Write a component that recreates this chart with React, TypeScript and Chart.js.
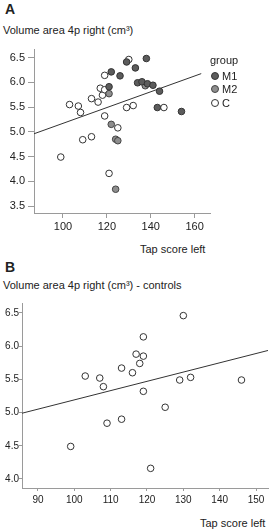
import React, { useEffect, useRef } from "react";
import { Chart, registerables } from "chart.js";
Chart.register(...registerables);

// ---- data ----
const m1Tap = [122, 126, 121, 129, 138, 133, 134, 136, 138.5, 141, 144, 143, 154];
const m1Vol = [6.21, 6.13, 5.91, 6.41, 6.48, 6.29, 5.99, 6.01, 5.97, 5.94, 5.82, 5.49, 5.41];
const m2Tap = [121, 137.5, 122, 124, 125, 124];
const m2Vol = [5.77, 5.93, 5.15, 4.85, 4.82, 3.84];
const cTap = [103, 107, 108, 113, 116, 117, 118, 119, 119, 130, 129, 132, 146, 119, 99, 109, 113, 125, 121];
const cVol = [5.55, 5.52, 5.39, 5.67, 5.6, 5.88, 5.74, 5.85, 6.14, 6.46, 5.49, 5.53, 5.49, 5.32, 4.49, 4.84, 4.9, 5.08, 4.16];
const fitATap = [86.8, 163];
const fitAVol = [4.96, 6.175];
const fitBTap = [85.6, 153.3];
const fitBVol = [4.99, 5.935];
const yTicksA = [3.5, 4.0, 4.5, 5.0, 5.5, 6.0, 6.5];
const xTicksA = [100, 120, 140, 160];
const yTicksB = [4.0, 4.5, 5.0, 5.5, 6.0, 6.5];
const xTicksB = [90, 100, 110, 120, 130, 140, 150];
const groups = ["M1", "M2", "C"];

const FONT = "'Liberation Sans', Arial, Helvetica, sans-serif";
const pts = (xs: number[], ys: number[]) => xs.map((x, i) => ({ x, y: ys[i] }));

function makeScales(o: any) {
  const axisColor = "#9a9a9a";
  return {
    x: {
      type: "linear",
      min: o.xMin,
      max: o.xMax,
      afterBuildTicks: (s: any) => { s.ticks = o.xTicks.map((v: number) => ({ value: v })); },
      afterFit: (s: any) => { s.height = o.xH; },
      ticks: { color: "#222", font: { family: FONT, size: o.xFont }, padding: o.xPad, maxRotation: 0, autoSkip: false },
      grid: { drawOnChartArea: false, drawTicks: true, tickLength: o.xTL, color: axisColor },
      border: { display: true, color: axisColor, width: 1 },
    },
    y: {
      type: "linear",
      min: o.yMin,
      max: o.yMax,
      afterBuildTicks: (s: any) => { s.ticks = o.yTicks.map((v: number) => ({ value: v })); },
      afterFit: (s: any) => { s.width = o.yW; },
      ticks: { color: "#222", font: { family: FONT, size: o.yFont }, padding: o.yPad, autoSkip: false,
        callback: (v: any) => Number(v).toFixed(1) },
      grid: { drawOnChartArea: false, drawTicks: true, tickLength: o.yTL, color: axisColor },
      border: { display: true, color: axisColor, width: 1 },
    },
  };
}

function ChartA() {
  const ref = useRef<HTMLCanvasElement>(null);
  useEffect(() => {
    const c = new Chart(ref.current!, {
      type: "scatter",
      data: {
        datasets: [
          { label: "fit", data: pts(fitATap, fitAVol), showLine: true, borderColor: "#333", borderWidth: 1, pointRadius: 0, order: 10 },
          { label: groups[0], data: pts(m1Tap, m1Vol), backgroundColor: "#5c5c5c", borderColor: "#333", borderWidth: 1, pointRadius: 3.3 },
          { label: groups[1], data: pts(m2Tap, m2Vol), backgroundColor: "#8e8e8e", borderColor: "#444", borderWidth: 1, pointRadius: 3.3 },
          { label: groups[2], data: pts(cTap, cVol), backgroundColor: "#fff", borderColor: "#333", borderWidth: 1, pointRadius: 3.3 },
        ],
      },
      options: {
        animation: false,
        responsive: false,
        layout: { padding: { left: 0, right: 5, top: 9, bottom: 0 } },
        plugins: { legend: { display: false }, tooltip: { enabled: false } },
        scales: makeScales({ xMin: 86.8, xMax: 167, yMin: 3.36, yMax: 6.66, xTicks: xTicksA, yTicks: yTicksA,
          xH: 27, yW: 34, xFont: 11, yFont: 11, xPad: 2, yPad: 3, xTL: 5, yTL: 6 }) as any,
      },
    });
    return () => c.destroy();
  }, []);
  return <canvas ref={ref} width={215} height={200} style={{ position: "absolute", left: 0, top: 40 }} />;
}

function ChartB() {
  const ref = useRef<HTMLCanvasElement>(null);
  useEffect(() => {
    const c = new Chart(ref.current!, {
      type: "scatter",
      data: {
        datasets: [
          { label: "fit", data: pts(fitBTap, fitBVol), showLine: true, borderColor: "#333", borderWidth: 1, pointRadius: 0, order: 10 },
          { label: groups[2], data: pts(cTap, cVol), backgroundColor: "#fff", borderColor: "#333", borderWidth: 1, pointRadius: 3.3 },
        ],
      },
      options: {
        animation: false,
        responsive: false,
        layout: { padding: { left: 0, right: 3, top: 8, bottom: 0 } },
        plugins: { legend: { display: false }, tooltip: { enabled: false } },
        scales: makeScales({ xMin: 85.6, xMax: 153.3, yMin: 3.864, yMax: 6.65, xTicks: xTicksB, yTicks: yTicksB,
          xH: 22, yW: 22, xFont: 10, yFont: 10, xPad: 3, yPad: 0, xTL: 3, yTL: 3 }) as any,
      },
    });
    return () => c.destroy();
  }, []);
  return <canvas ref={ref} width={273} height={215} style={{ position: "absolute", left: 0, top: 295 }} />;
}

const txt = (left: number, cy: number, size: number, s: string, bold = false, extra: any = {}) => (
  <div style={{ position: "absolute", left, top: cy - size / 2, fontSize: size, lineHeight: `${size}px`,
    fontFamily: FONT, fontWeight: bold ? 700 : 400, color: "#222", whiteSpace: "nowrap", ...extra }}>{s}</div>
);

const markerStyles = [
  { background: "#5c5c5c", border: "1px solid #333" },
  { background: "#8e8e8e", border: "1px solid #444" },
  { background: "#fff", border: "1px solid #333" },
];
const legendY = [76, 89, 103];

export default function App() {
  return (
    <div style={{ position: "fixed", left: 0, top: 0, width: 273, height: 531, background: "#fff", overflow: "hidden" }}>
      {txt(5, 9, 14, "A", true)}
      {txt(3, 30, 11, "Volume area 4p right (cm³)")}
      <ChartA />
      {txt(210, 60, 11, "group")}
      {groups.map((g, i) => (
        <React.Fragment key={g}>
          <div style={{ position: "absolute", left: 211, top: legendY[i] - 4, width: 6, height: 6, borderRadius: "50%", ...markerStyles[i] }} />
          {txt(222, legendY[i], 11, g)}
        </React.Fragment>
      ))}
      {txt(140, 249, 11, "Tap score left")}
      {txt(5, 267, 14, "B", true)}
      {txt(3, 285, 11, "Volume area 4p right (cm³) - controls")}
      <ChartB />
      {txt(200, 523, 11, "Tap score left")}
    </div>
  );
}
